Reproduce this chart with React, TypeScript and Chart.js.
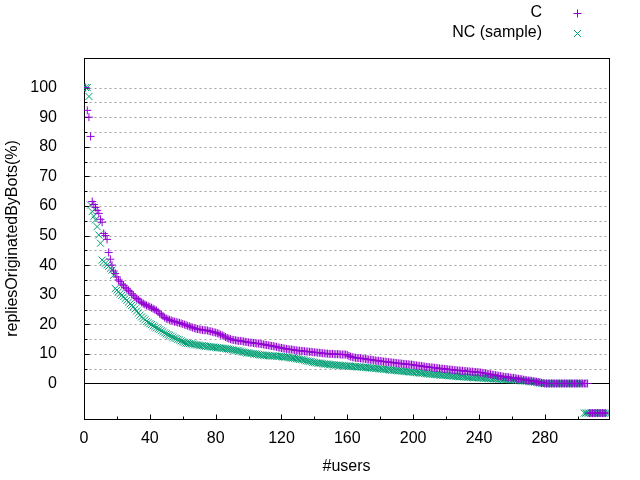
import React, { useEffect, useRef } from "react";
import { Chart, registerables } from "chart.js";

Chart.register(...registerables);

// ---- data (x = user rank 1..n, y = repliesOriginatedByBots %) ----
const cValues: number[] = [
  100, 92.3, 90, 83.5, 61.5, 60.5, 59.5, 58.5, 57.5, 55.5,
  54.5, 50.7, 50, 48.7, 44.3, 42, 40, 38, 37.2, 36,
  35, 34.4, 33.6, 33.2, 32.5, 32, 31.5, 31, 30.3, 29.8,
  29.2, 28.7, 28.3, 27.8, 27.4, 27, 26.7, 26.4, 26.1, 25.9,
  25.6, 25.3, 25, 24.7, 24.2, 23.6, 23.2, 22.8, 22.3, 21.9,
  21.7, 21.5, 21.3, 21.1, 20.9, 20.8, 20.6, 20.5, 20.3, 20.1,
  19.9, 19.7, 19.5, 19.3, 19.1, 18.9, 18.7, 18.5, 18.4, 18.3,
  18.2, 18.1, 18, 18, 17.9, 17.7, 17.6, 17.5, 17.3, 17.2,
  17, 16.8, 16.5, 16.3, 16, 15.7, 15.4, 15.2, 15, 14.8,
  14.7, 14.6, 14.5, 14.4, 14.4, 14.3, 14.2, 14.1, 14.0, 13.9,
  13.8, 13.8, 13.7, 13.6, 13.5, 13.5, 13.4, 13.3, 13.2, 13.1,
  13.0, 12.9, 12.8, 12.7, 12.6, 12.5, 12.4, 12.2, 12.1, 12.0,
  11.9, 11.8, 11.7, 11.6, 11.5, 11.5, 11.4, 11.3, 11.2, 11.1,
  11.1, 11.0, 11.0, 10.9, 10.8, 10.8, 10.7, 10.7, 10.6, 10.5,
  10.5, 10.4, 10.4, 10.3, 10.2, 10.2, 10.1, 10.1, 10.0, 10.0,
  10.0, 9.9, 9.9, 9.9, 9.9, 9.8, 9.8, 9.8, 9.8, 9.6,
  9.3, 9.1, 8.9, 8.8, 8.7, 8.6, 8.6, 8.5, 8.4, 8.4,
  8.3, 8.2, 8.1, 8.0, 8.0, 7.9, 7.8, 7.7, 7.7, 7.6,
  7.5, 7.4, 7.4, 7.3, 7.2, 7.2, 7.1, 7.0, 7.0, 6.9,
  6.8, 6.8, 6.7, 6.6, 6.6, 6.5, 6.5, 6.4, 6.4, 6.3,
  6.2, 6.1, 6.0, 6.0, 5.9, 5.8, 5.7, 5.6, 5.6, 5.5,
  5.4, 5.4, 5.3, 5.2, 5.2, 5.1, 5.0, 5.0, 4.9, 4.9,
  4.8, 4.7, 4.7, 4.6, 4.5, 4.5, 4.4, 4.4, 4.3, 4.3,
  4.2, 4.2, 4.1, 4.1, 4.0, 4.0, 3.9, 3.9, 3.8, 3.8,
  3.7, 3.6, 3.5, 3.4, 3.3, 3.2, 3.1, 3.0, 2.9, 2.8,
  2.7, 2.6, 2.5, 2.4, 2.3, 2.2, 2.2, 2.1, 2.0, 1.9,
  1.9, 1.8, 1.7, 1.6, 1.5, 1.4, 1.3, 1.2, 1.1, 1.0,
  1.0, 0.9, 0.8, 0.7, 0.6, 0.5, 0.4, 0.2, 0.1, 0,
  0, 0, 0, 0, 0, 0, 0, 0, 0, 0,
  0, 0, 0, 0, 0, 0, 0, 0, 0, 0,
  0, 0, 0, 0, 0, 0, -10, -10, -10, -10,
  -10, -10, -10, -10, -10, -10, -10,
];

const ncValues: number[] = [
  100, 100, 97, 60.3, 58.1, 56.5, 55.3, 53, 50.2, 47.4,
  41.7, 41.2, 40.6, 40.1, 39.6, 38.9, 38.3, 36.6, 32.1, 31.6,
  31.0, 30.4, 29.8, 29.3, 28.7, 28.1, 27.5, 26.9, 26.4, 25.9,
  25.2, 24.5, 23.8, 23.1, 22.5, 22.0, 21.5, 21.0, 20.6, 20.2,
  19.9, 19.5, 19.2, 18.8, 18.5, 18.2, 17.8, 17.5, 17.1, 16.8,
  16.5, 16.3, 16.0, 15.7, 15.4, 15.2, 14.9, 14.7, 14.4, 14.1,
  13.9, 13.7, 13.6, 13.5, 13.4, 13.3, 13.2, 13.1, 13.0, 12.9,
  12.8, 12.8, 12.7, 12.6, 12.5, 12.5, 12.4, 12.3, 12.3, 12.2,
  12.1, 12.1, 12.0, 11.9, 11.9, 11.8, 11.7, 11.6, 11.5, 11.4,
  11.3, 11.2, 11.1, 11.0, 10.9, 10.7, 10.6, 10.5, 10.3, 10.3,
  10.2, 10.1, 10.0, 10.0, 9.9, 9.8, 9.7, 9.6, 9.5, 9.5,
  9.5, 9.4, 9.4, 9.3, 9.3, 9.3, 9.2, 9.2, 9.2, 9.1,
  9.0, 8.9, 8.9, 8.8, 8.7, 8.6, 8.6, 8.5, 8.4, 8.3,
  8.2, 8.1, 8.0, 7.9, 7.7, 7.6, 7.5, 7.4, 7.2, 7.1,
  7.0, 6.9, 6.9, 6.8, 6.7, 6.6, 6.6, 6.5, 6.4, 6.4,
  6.3, 6.3, 6.2, 6.2, 6.1, 6.1, 6.0, 6.0, 5.9, 5.9,
  5.9, 5.8, 5.8, 5.7, 5.7, 5.6, 5.6, 5.6, 5.5, 5.5,
  5.4, 5.4, 5.3, 5.3, 5.2, 5.2, 5.1, 5.1, 5.0, 5.0,
  4.9, 4.8, 4.8, 4.7, 4.7, 4.6, 4.5, 4.5, 4.4, 4.4,
  4.3, 4.3, 4.2, 4.1, 4.1, 4.0, 4.0, 3.9, 3.9, 3.8,
  3.7, 3.7, 3.6, 3.6, 3.5, 3.5, 3.4, 3.3, 3.3, 3.2,
  3.2, 3.1, 3.1, 3.0, 3.0, 2.9, 2.9, 2.8, 2.8, 2.7,
  2.7, 2.6, 2.6, 2.5, 2.5, 2.4, 2.4, 2.3, 2.3, 2.3,
  2.2, 2.2, 2.1, 2.1, 2.1, 2.0, 2.0, 2.0, 1.9, 1.9,
  1.9, 1.8, 1.8, 1.8, 1.7, 1.7, 1.7, 1.6, 1.6, 1.6,
  1.5, 1.5, 1.5, 1.4, 1.4, 1.4, 1.3, 1.3, 1.3, 1.2,
  1.2, 1.1, 1.1, 1.0, 1.0, 0.9, 0.9, 0.8, 0.8, 0.7,
  0.6, 0.6, 0.5, 0.5, 0.4, 0.3, 0.2, 0.1, 0, 0,
  0, 0, 0, 0, 0, 0, 0, 0, 0, 0,
  0, 0, 0, 0, 0, 0, 0, 0, 0, 0,
  0, 0, 0, -10, -10, -10, -10, -10, -10, -10,
  -10, -10, -10, -10, -10, -10, -10, -10,
];

const seriesNames = ["C", "NC (sample)"];
const seriesColors = ["#9400d3", "#009e73"];

const xTickValues = [0, 40, 80, 120, 160, 200, 240, 280];
const xMinorTicks = [20, 60, 100, 140, 180, 220, 260, 300];
const yTickValues = [0, 10, 20, 30, 40, 50, 60, 70, 80, 90, 100];
const yMinorTicks = [5, 15, 25, 35, 45, 55, 65, 75, 85, 95];
const yGridValues = [5, 10, 15, 20, 25, 30, 35, 40, 45, 50, 55, 60, 65, 70, 75, 80, 85, 90, 95, 100];

const X_MIN = 0;
const X_MAX = 319;
const Y_MIN = -12;
const Y_MAX = 110;

const FONT = "'Liberation Sans', Arial, sans-serif";
const FONT_SIZE = 16;

const gnuplotPlugin = {
  id: "gnuplotFrame",
  beforeDatasetsDraw(chart: any) {
    const { ctx, chartArea } = chart;
    const xs = chart.scales.x;
    const ys = chart.scales.y;
    const L = chartArea.left + 0.5;
    const R = chartArea.right + 0.5;
    const T = chartArea.top + 0.5;
    const B = chartArea.bottom + 0.5;
    ctx.save();
    // dashed grid
    ctx.strokeStyle = "#a0a0a0";
    ctx.lineWidth = 1;
    ctx.setLineDash([2, 3]);
    for (const v of yGridValues) {
      const y = Math.round(ys.getPixelForValue(v)) + 0.5;
      ctx.beginPath();
      ctx.moveTo(L, y);
      ctx.lineTo(R, y);
      ctx.stroke();
    }
    ctx.setLineDash([]);
    // zero axis
    ctx.strokeStyle = "#000";
    const y0 = Math.round(ys.getPixelForValue(0)) + 0.5;
    ctx.beginPath();
    ctx.moveTo(L, y0);
    ctx.lineTo(R, y0);
    ctx.stroke();
    // frame
    ctx.strokeRect(L, T, R - L, B - T);
    // ticks (inward, bottom and left only)
    ctx.beginPath();
    for (const v of xTickValues) {
      const x = Math.round(xs.getPixelForValue(v)) + 0.5;
      ctx.moveTo(x, B);
      ctx.lineTo(x, B - 5);
    }
    for (const v of xMinorTicks) {
      const x = Math.round(xs.getPixelForValue(v)) + 0.5;
      ctx.moveTo(x, B);
      ctx.lineTo(x, B - 3);
    }
    for (const v of yTickValues) {
      const y = Math.round(ys.getPixelForValue(v)) + 0.5;
      ctx.moveTo(L, y);
      ctx.lineTo(L + 5, y);
    }
    for (const v of yMinorTicks) {
      const y = Math.round(ys.getPixelForValue(v)) + 0.5;
      ctx.moveTo(L, y);
      ctx.lineTo(L + 3, y);
    }
    ctx.stroke();
    ctx.restore();
  },
  afterDraw(chart: any) {
    const { ctx } = chart;
    ctx.save();
    ctx.font = `${FONT_SIZE}px ${FONT}`;
    ctx.textAlign = "right";
    ctx.textBaseline = "middle";
    const rows = [13, 32.5];
    seriesNames.forEach((name, i) => {
      ctx.fillStyle = "#000";
      ctx.fillText(name, 542, rows[i]);
      ctx.strokeStyle = seriesColors[i];
      ctx.lineWidth = 1;
      const cx = 577.5;
      const cy = Math.round(rows[i]) + 0.5;
      ctx.beginPath();
      if (i === 0) {
        ctx.moveTo(cx - 4, cy);
        ctx.lineTo(cx + 4, cy);
        ctx.moveTo(cx, cy - 4);
        ctx.lineTo(cx, cy + 4);
      } else {
        ctx.moveTo(cx - 3.5, cy - 3.5);
        ctx.lineTo(cx + 3.5, cy + 3.5);
        ctx.moveTo(cx - 3.5, cy + 3.5);
        ctx.lineTo(cx + 3.5, cy - 3.5);
      }
      ctx.stroke();
    });
    ctx.restore();
  },
};

export default function App() {
  const canvasRef = useRef<HTMLCanvasElement | null>(null);

  useEffect(() => {
    if (!canvasRef.current) return;
    const cData = cValues.map((v, i) => ({ x: i + 1, y: v }));
    const ncData = ncValues.map((v, i) => ({ x: i + 1, y: v }));
    const chart = new Chart(canvasRef.current, {
      type: "scatter",
      data: {
        datasets: [
          {
            label: seriesNames[0],
            data: cData,
            pointStyle: "cross",
            pointRadius: 4,
            pointHoverRadius: 4,
            borderColor: seriesColors[0],
            backgroundColor: seriesColors[0],
            borderWidth: 1,
          },
          {
            label: seriesNames[1],
            data: ncData,
            pointStyle: "crossRot",
            pointRadius: 5,
            pointHoverRadius: 5,
            borderColor: seriesColors[1],
            backgroundColor: seriesColors[1],
            borderWidth: 1,
          },
        ],
      },
      options: {
        responsive: false,
        animation: false,
        devicePixelRatio: 1,
        events: [],
        layout: { padding: { left: 0, top: 58, right: 31, bottom: 0 } },
        plugins: {
          legend: { display: false },
          tooltip: { enabled: false },
        },
        scales: {
          x: {
            type: "linear",
            min: X_MIN,
            max: X_MAX,
            grid: { display: false, drawTicks: false },
            border: { display: false },
            afterBuildTicks: (scale: any) => {
              scale.ticks = xTickValues.map((v) => ({ value: v }));
            },
            afterFit: (scale: any) => {
              scale.height = 61;
            },
            ticks: {
              autoSkip: false,
              maxRotation: 0,
              padding: 10,
              color: "#000",
              font: { family: FONT, size: FONT_SIZE },
              callback: (v: any) => String(v),
            },
            title: {
              display: true,
              text: "#users",
              color: "#000",
              font: { family: FONT, size: FONT_SIZE },
              padding: { top: 0, bottom: 4 },
            },
          },
          y: {
            type: "linear",
            min: Y_MIN,
            max: Y_MAX,
            grid: { display: false, drawTicks: false },
            border: { display: false },
            afterBuildTicks: (scale: any) => {
              scale.ticks = yTickValues.map((v) => ({ value: v }));
            },
            afterFit: (scale: any) => {
              scale.width = 84;
            },
            ticks: {
              autoSkip: false,
              padding: 27,
              color: "#000",
              font: { family: FONT, size: FONT_SIZE },
              callback: (v: any) => String(v),
            },
            title: {
              display: true,
              text: "repliesOriginatedByBots(%)",
              color: "#000",
              font: { family: FONT, size: FONT_SIZE },
              padding: { top: 3, bottom: 0 },
            },
          },
        },
      },
      plugins: [gnuplotPlugin],
    } as any);
    return () => chart.destroy();
  }, []);

  return (
    <div style={{ position: "fixed", left: 0, top: 0, width: 640, height: 480, background: "#fff" }}>
      <canvas ref={canvasRef} width={640} height={480} style={{ display: "block" }} />
    </div>
  );
}
